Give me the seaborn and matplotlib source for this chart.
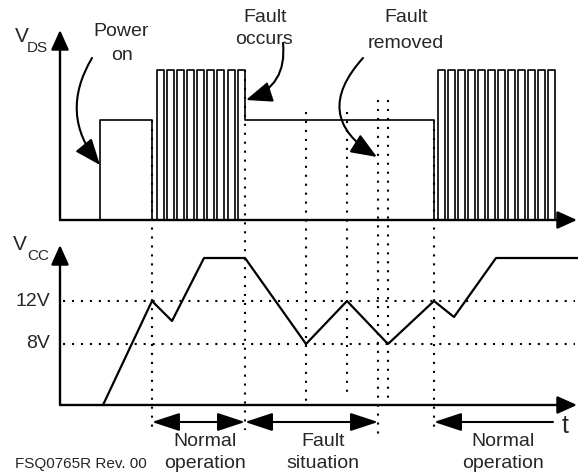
import pandas as pd
import matplotlib.pyplot as plt
import seaborn as sns

# ---- data (time in arbitrary units, 0 = axis origin) ----
power_on_t = 40
switch1_end = 92
fault_t = 185
restart_t = 374
vds_off_level = 100   # V_DS while switch is off
vds_peak = 150        # V_DS peak while switching

pulses_1 = [97, 107, 117, 127, 137, 147, 157, 168, 178]
pulses_2 = [378, 388, 398, 408, 418, 428, 438, 448, 458, 468, 478, 488]
pulse_width = 7

vcc_t = [43, 92, 112, 144, 185, 246, 287, 328, 374, 394, 436, 518]
vcc_v = [0, 104, 84, 147, 147, 61, 104, 61, 104, 88, 147, 147]

level_12v = 104
level_8v = 61

event_t = [92, 185, 246, 287, 318, 328, 374]
event_top = [100, 150, 108, 108, 120, 120, 100]      # V_DS panel units
event_bottom = [-25, -25, 2, 12, -35, 3, -25]        # V_CC panel units

# ---- build V_DS waveform from the edges ----
vds_t = [0, power_on_t, power_on_t, switch1_end, switch1_end]
vds_v = [0, 0, vds_off_level, vds_off_level, 0]
for p in pulses_1[:-1]:
    vds_t += [p, p, p + pulse_width, p + pulse_width]
    vds_v += [0, vds_peak, vds_peak, 0]
p = pulses_1[-1]
vds_t += [p, p, fault_t, fault_t, restart_t, restart_t]
vds_v += [0, vds_peak, vds_peak, vds_off_level, vds_off_level, 0]
for p in pulses_2:
    vds_t += [p, p, p + pulse_width, p + pulse_width]
    vds_v += [0, vds_peak, vds_peak, 0]

vds = pd.DataFrame({"t": vds_t, "v": vds_v})
vcc = pd.DataFrame({"t": vcc_t, "v": vcc_v})

sns.set_style("white")
plt.rcParams["font.family"] = ["Liberation Sans", "DejaVu Sans"]

fig = plt.figure(figsize=(5.78, 4.76), dpi=100)
ax_top = fig.add_axes([0, 1 - 240 / 476, 1, 240 / 476])
ax_bot = fig.add_axes([0, 0, 1, 236 / 476])
ax_top.set_xlim(-60, 518)
ax_top.set_ylim(-20, 220)
ax_bot.set_xlim(-60, 518)
ax_bot.set_ylim(-71, 165)
for ax in (ax_top, ax_bot):
    ax.axis("off")
    ax.patch.set_visible(False)

sns.lineplot(data=vds, x="t", y="v", sort=False, estimator=None, errorbar=None,
             color="black", lw=1.2, ax=ax_top)
sns.lineplot(data=vcc, x="t", y="v", sort=False, estimator=None, errorbar=None,
             color="black", lw=1.6, ax=ax_bot)

dots = (0, (1, 3.3))
for lvl in (level_12v, level_8v):
    ax_bot.plot([3, 515], [lvl, lvl], color="black", lw=1.5, ls=dots,
                dash_capstyle="butt")

# event markers running through both panels
to_top = ax_top.transData.inverted()
for t, y0, y1 in zip(event_t, event_top, event_bottom):
    y1_top = to_top.transform(ax_bot.transData.transform((t, y1)))[1]
    ax_top.plot([t, t], [y0, y1_top], color="black", lw=1.5, ls=dots,
                dash_capstyle="butt", clip_on=False)

# axes with arrows
axis_head = "-|>,head_length=0.6,head_width=0.27"
for ax, ytip in ((ax_top, 190), (ax_bot, 160)):
    ax.annotate("", xy=(0, ytip), xytext=(0, 0), annotation_clip=False,
                arrowprops=dict(arrowstyle=axis_head, color="black", lw=1.7,
                                mutation_scale=20, shrinkA=0, shrinkB=0))
    ax.annotate("", xy=(517, 0), xytext=(0, 0), annotation_clip=False,
                arrowprops=dict(arrowstyle=axis_head, color="black", lw=1.7,
                                mutation_scale=20, shrinkA=0, shrinkB=0))

# axis labels
ax_top.text(-45, 184, "V", fontsize=15, ha="left", va="center")
ax_top.text(-33, 172, "DS", fontsize=11, ha="left", va="center")
ax_bot.text(-47, 161, "V", fontsize=15, ha="left", va="center")
ax_bot.text(-33, 149, "CC", fontsize=11, ha="left", va="center")
ax_bot.text(-10, level_12v, "12V", fontsize=14, ha="right", va="center")
ax_bot.text(-10, level_8v, "8V", fontsize=14, ha="right", va="center")

# annotations on V_DS (top panel y = 220 - pixel)
for x, y, s in ((61, 188, "Power"), (62, 165, "on"),
                (205, 203, "Fault"), (204, 180, "occurs"),
                (346, 203, "Fault"), (346, 177, "removed")):
    ax_top.text(x, y, s, fontsize=14, ha="center", va="center")

curve_head = "-|>,head_length=0.8,head_width=0.32"
for tail, tip, rad in (((32, 162), (40, 55), 0.35),
                       ((223, 177), (186, 120), -0.4),
                       ((303, 162), (317, 63), 0.6)):
    ax_top.annotate("", xy=tip, xytext=tail, annotation_clip=False,
                    arrowprops=dict(arrowstyle=curve_head, color="black", lw=1.5,
                                    mutation_scale=20, shrinkA=0, shrinkB=0,
                                    connectionstyle=f"arc3,rad={rad}"))

# operating-phase arrows
span_head = "<|-|>,head_length=0.85,head_width=0.28"
for a, b in ((92, 185), (185, 318)):
    ax_bot.annotate("", xy=(b, -17), xytext=(a, -17), annotation_clip=False,
                    arrowprops=dict(arrowstyle=span_head, color="black", lw=1.5,
                                    mutation_scale=20, shrinkA=0, shrinkB=0))
ax_bot.annotate("", xy=(374, -17), xytext=(493, -17), annotation_clip=False,
                arrowprops=dict(arrowstyle="-|>,head_length=0.85,head_width=0.28",
                                color="black", lw=1.5, mutation_scale=20,
                                shrinkA=0, shrinkB=0))
ax_bot.text(505, -21, "t", fontsize=18, ha="center", va="center")

# bottom panel y = 405 - pixel
for x, s1, s2 in ((145, "Normal", "operation"), (263, "Fault", "situation"),
                  (443, "Normal", "operation")):
    ax_bot.text(x, -37, s1, fontsize=14, ha="center", va="center")
    ax_bot.text(x, -59, s2, fontsize=14, ha="center", va="center")
ax_bot.text(-45, -59, "FSQ0765R Rev. 00", fontsize=11, ha="left", va="center")

fig.savefig("out.png", dpi=100)
